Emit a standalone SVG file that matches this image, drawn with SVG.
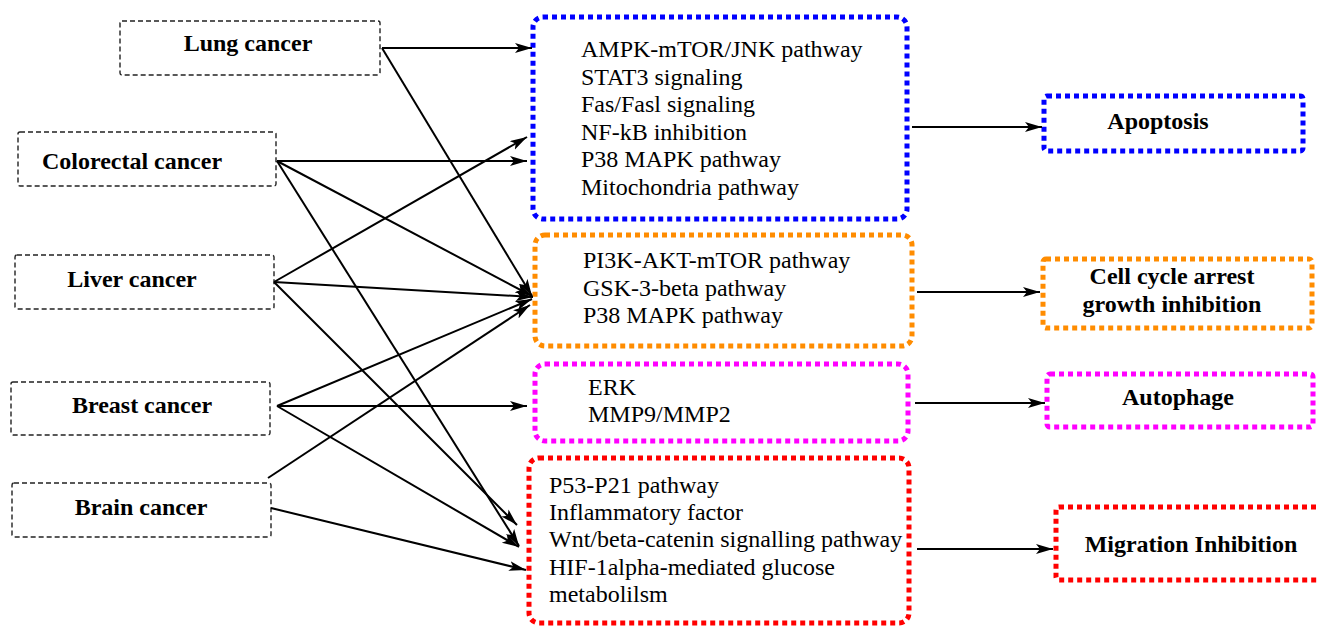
<svg xmlns="http://www.w3.org/2000/svg" width="1318" height="627" viewBox="0 0 1318 627">
<style>
.src{fill:none;stroke:#222;stroke-width:1.4;stroke-dasharray:5 3}
.lbl{font-family:"Liberation Serif","Times New Roman",serif;font-weight:bold;font-size:24px;fill:#000;text-anchor:middle}
.txt{font-family:"Liberation Serif","Times New Roman",serif;font-size:24px;fill:#000}
.box{fill:none;stroke-width:5;stroke-dasharray:5 4}
.blue{stroke:#0000FF}
.orange{stroke:#FF8C00}
.mag{stroke:#FF00FF}
.red{stroke:#FF0000}
.con{fill:none;stroke:#000;stroke-width:2;marker-end:url(#ah)}
</style>
<defs>
<marker id="ah" markerUnits="userSpaceOnUse" markerWidth="18" markerHeight="12" refX="17" refY="5" orient="auto">
<path d="M0,0 L17,5 L0,10 L4,5 z" fill="#000"/>
</marker>
</defs>
<rect width="1318" height="627" fill="#fff"/>

<g id="lung"><rect class="src" x="120" y="21" width="260" height="54" rx="2"/><text class="lbl" x="248" y="51">Lung cancer</text></g>
<g id="colorectal"><rect class="src" x="18" y="132" width="258" height="54" rx="2"/><text class="lbl" x="132" y="169">Colorectal cancer</text></g>
<g id="liver"><rect class="src" x="15" y="255" width="259" height="54" rx="2"/><text class="lbl" x="132" y="287">Liver cancer</text></g>
<g id="breast"><rect class="src" x="11" y="382" width="259" height="53" rx="2"/><text class="lbl" x="142" y="413">Breast cancer</text></g>
<g id="brain"><rect class="src" x="12" y="483" width="259" height="54" rx="2"/><text class="lbl" x="141" y="515">Brain cancer</text></g>

<g id="apoptosis-path"><rect class="box blue" x="533" y="17" width="374" height="202" rx="10"/>
<text class="txt" x="581"><tspan x="581" y="57">AMPK-mTOR/JNK pathway</tspan><tspan x="581" y="84.5">STAT3 signaling</tspan><tspan x="581" y="112">Fas/Fasl signaling</tspan><tspan x="581" y="139.5">NF-kB inhibition</tspan><tspan x="581" y="167">P38 MAPK pathway</tspan><tspan x="581" y="194.5">Mitochondria pathway</tspan></text></g>
<g id="cellcycle-path"><rect class="box orange" x="535" y="235" width="377" height="111" rx="10"/>
<text class="txt"><tspan x="583" y="268">PI3K-AKT-mTOR pathway</tspan><tspan x="583" y="296">GSK-3-beta pathway</tspan><tspan x="583" y="323">P38 MAPK pathway</tspan></text></g>
<g id="autophage-path"><rect class="box mag" x="535" y="364" width="373" height="77" rx="10"/>
<text class="txt"><tspan x="588" y="395">ERK</tspan><tspan x="588" y="422">MMP9/MMP2</tspan></text></g>
<g id="migration-path"><rect class="box red" x="529" y="458" width="380" height="165" rx="10"/>
<text class="txt"><tspan x="549" y="493">P53-P21 pathway</tspan><tspan x="549" y="520">Inflammatory factor</tspan><tspan x="549" y="547">Wnt/beta-catenin signalling pathway</tspan><tspan x="549" y="575">HIF-1alpha-mediated glucose</tspan><tspan x="549" y="602">metabolilsm</tspan></text></g>

<g id="apoptosis"><rect class="box blue" x="1044" y="96" width="259" height="55" rx="3"/><text class="lbl" x="1158" y="129">Apoptosis</text></g>
<g id="cellcycle"><rect class="box orange" x="1043" y="259" width="269" height="69" rx="3"/><text class="lbl"><tspan x="1172" y="284">Cell cycle arrest</tspan><tspan x="1172" y="312">growth inhibition</tspan></text></g>
<g id="autophage"><rect class="box mag" x="1047" y="374" width="266" height="53" rx="3"/><text class="lbl" x="1178" y="405">Autophage</text></g>
<g id="migration"><rect class="box red" x="1056" y="507" width="272" height="73" rx="3"/><text class="lbl" x="1191" y="552">Migration Inhibition</text></g>

<g id="connectors">
<line class="con" x1="382" y1="48" x2="532" y2="48"/>
<line class="con" x1="382" y1="48" x2="532" y2="296"/>
<line class="con" x1="277" y1="161" x2="527" y2="161"/>
<line class="con" x1="277" y1="161" x2="532" y2="296"/>
<line class="con" x1="277" y1="161" x2="519" y2="546"/>
<line class="con" x1="274" y1="282" x2="527" y2="137"/>
<line class="con" x1="274" y1="282" x2="533" y2="297"/>
<line class="con" x1="274" y1="282" x2="517" y2="525"/>
<line class="con" x1="277" y1="406" x2="532" y2="299"/>
<line class="con" x1="277" y1="406" x2="527" y2="406"/>
<line class="con" x1="277" y1="406" x2="519" y2="547"/>
<line class="con" x1="268" y1="478" x2="530" y2="305"/>
<line class="con" x1="271" y1="508" x2="526" y2="570"/>
<line class="con" x1="912" y1="127" x2="1042" y2="127"/>
<line class="con" x1="917" y1="292" x2="1040" y2="292"/>
<line class="con" x1="915" y1="403" x2="1045" y2="403"/>
<line class="con" x1="917" y1="549" x2="1053" y2="549"/>
</g>
</svg>
